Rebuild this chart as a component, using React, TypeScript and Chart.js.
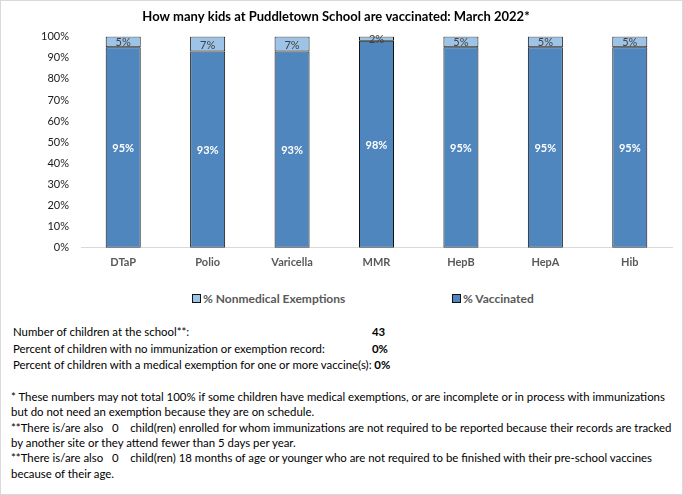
import React, { useEffect, useRef } from "react";
import { Chart, registerables } from "chart.js";

Chart.register(...registerables);

const titleText = "How many kids at Puddletown School are vaccinated: March 2022*";
const categories = ["DTaP", "Polio", "Varicella", "MMR", "HepB", "HepA", "Hib"];
const vaccinated = [95, 93, 93, 98, 95, 95, 95];
const nonmedical = [5, 7, 7, 2, 5, 5, 5];
const yTickStep = 10;
const yMax = 100;
const seriesNames = ["% Vaccinated", "% Nonmedical Exemptions"];
const seriesColors = ["#4f86bd", "#9dc3e6"];

const summaryLabels = [
  "Number of children at the school**:",
  "Percent of children with no immunization or exemption record:",
  "Percent of children with a medical exemption for one or more vaccine(s):",
];
const summaryValues = ["43", "0%", "0%"];

const footnotes = [
  "* These numbers may not total 100% if some children have medical exemptions, or are incomplete or in process with immunizations",
  "but do not need an exemption because they are on schedule.",
  "**There is/are also   0    child(ren) enrolled for whom immunizations are not required to be reported because their records are tracked",
  "by another site or they attend fewer than 5 days per year.",
  "**There is/are also   0    child(ren) 18 months of age or younger who are not required to be finished with their pre-school vaccines",
  "because of their age.",
];

const FONT = "Lato, 'Open Sans', sans-serif";

const barLabels = {
  id: "barLabels",
  afterDatasetsDraw(chart: any) {
    const ctx = chart.ctx;
    chart.data.datasets.forEach((ds: any, di: number) => {
      const meta = chart.getDatasetMeta(di);
      meta.data.forEach((el: any, i: number) => {
        const { x, y, base } = el.getProps(["x", "y", "base"], true);
        ctx.save();
        ctx.font = ds.labelFont;
        ctx.fillStyle = ds.labelColor;
        ctx.textAlign = "center";
        ctx.textBaseline = "middle";
        ctx.fillText(ds.data[i] + "%", x, (y + base) / 2 + 1);
        ctx.restore();
      });
    });
  },
};

export default function App() {
  const ref = useRef<HTMLCanvasElement | null>(null);

  useEffect(() => {
    if (!ref.current) return;
    const chart = new Chart(ref.current, {
      type: "bar",
      data: {
        labels: categories,
        datasets: [
          {
            label: seriesNames[0],
            data: vaccinated,
            backgroundColor: seriesColors[0],
            borderColor: "#111111",
            borderWidth: 1,
            borderSkipped: false,
            labelColor: "#ffffff",
            labelFont: `bold 11px ${FONT}`,
          } as any,
          {
            label: seriesNames[1],
            data: nonmedical,
            backgroundColor: seriesColors[1],
            borderColor: "#111111",
            borderWidth: 1,
            borderSkipped: false,
            labelColor: "#404040",
            labelFont: `11px ${FONT}`,
          } as any,
        ],
      },
      options: {
        responsive: false,
        animation: false,
        devicePixelRatio: 1,
        layout: { padding: { left: 0, right: 11, top: 0, bottom: 7 } },
        datasets: { bar: { categoryPercentage: 1, barPercentage: 0.415 } },
        plugins: {
          legend: { display: false },
          tooltip: { enabled: false },
          title: {
            display: true,
            text: titleText,
            color: "#000000",
            font: { family: FONT, size: 13, weight: "bold" },
            padding: { top: 9, bottom: 12 },
          },
        },
        scales: {
          x: {
            stacked: true,
            grid: { display: false, drawTicks: false },
            border: { display: true, color: "#d9d9d9", width: 1 },
            ticks: {
              color: "#595959",
              font: { family: FONT, size: 11, weight: "bold" },
              padding: 8,
            },
          },
          y: {
            stacked: true,
            min: 0,
            max: yMax,
            grid: { display: false, drawTicks: false },
            border: { display: false },
            ticks: {
              stepSize: yTickStep,
              color: "#1a1a1a",
              font: { family: FONT, size: 11 },
              padding: 12,
              callback: (v: any) => v + "%",
            },
            afterFit: (scale: any) => {
              scale.width = 81;
            },
          },
        },
      },
      plugins: [barLabels],
    });
    return () => chart.destroy();
  }, []);

  const legendItems = [
    { name: seriesNames[1], color: seriesColors[1], left: 192 },
    { name: seriesNames[0], color: seriesColors[0], left: 452 },
  ];

  const textStyle: React.CSSProperties = {
    position: "absolute",
    whiteSpace: "pre",
    fontFamily: FONT,
    fontSize: "11.4px",
    color: "#000",
    lineHeight: "14px",
  };

  return (
    <div
      style={{
        position: "absolute",
        left: 0,
        top: 0,
        width: 683,
        height: 495,
        boxSizing: "border-box",
        border: "1px solid #d9d9d9",
        background: "#fff",
        overflow: "hidden",
      }}
    >
      <canvas ref={ref} width={683} height={284} style={{ position: "absolute", left: -1, top: -1 }} />
      {legendItems.map((it, i) => (
        <div
          key={i}
          style={{
            position: "absolute",
            left: it.left - 1,
            top: 289,
            height: 16,
            display: "flex",
            alignItems: "center",
            fontFamily: FONT,
            fontSize: "12px",
            fontWeight: "bold",
            color: "#595959",
            whiteSpace: "nowrap",
          }}
        >
          <span
            style={{
              display: "inline-block",
              width: 7,
              height: 7,
              background: it.color,
              border: "1px solid #111",
              marginRight: 2,
            }}
          />
          {it.name}
        </div>
      ))}
      {summaryLabels.map((s, i) => (
        <React.Fragment key={i}>
          <div style={{ ...textStyle, left: 12, top: 324 + i * 16.5 }}>
            {s}
            {i === 2 ? <b> {summaryValues[i]}</b> : null}
          </div>
          {i < 2 ? (
            <div style={{ ...textStyle, left: 371, top: 324 + i * 16.5, fontWeight: "bold" }}>
              {summaryValues[i]}
            </div>
          ) : null}
        </React.Fragment>
      ))}
      {footnotes.map((s, i) => (
        <div key={i} style={{ ...textStyle, left: 10, top: 389 + i * 15.3 }}>
          {s}
        </div>
      ))}
    </div>
  );
}
